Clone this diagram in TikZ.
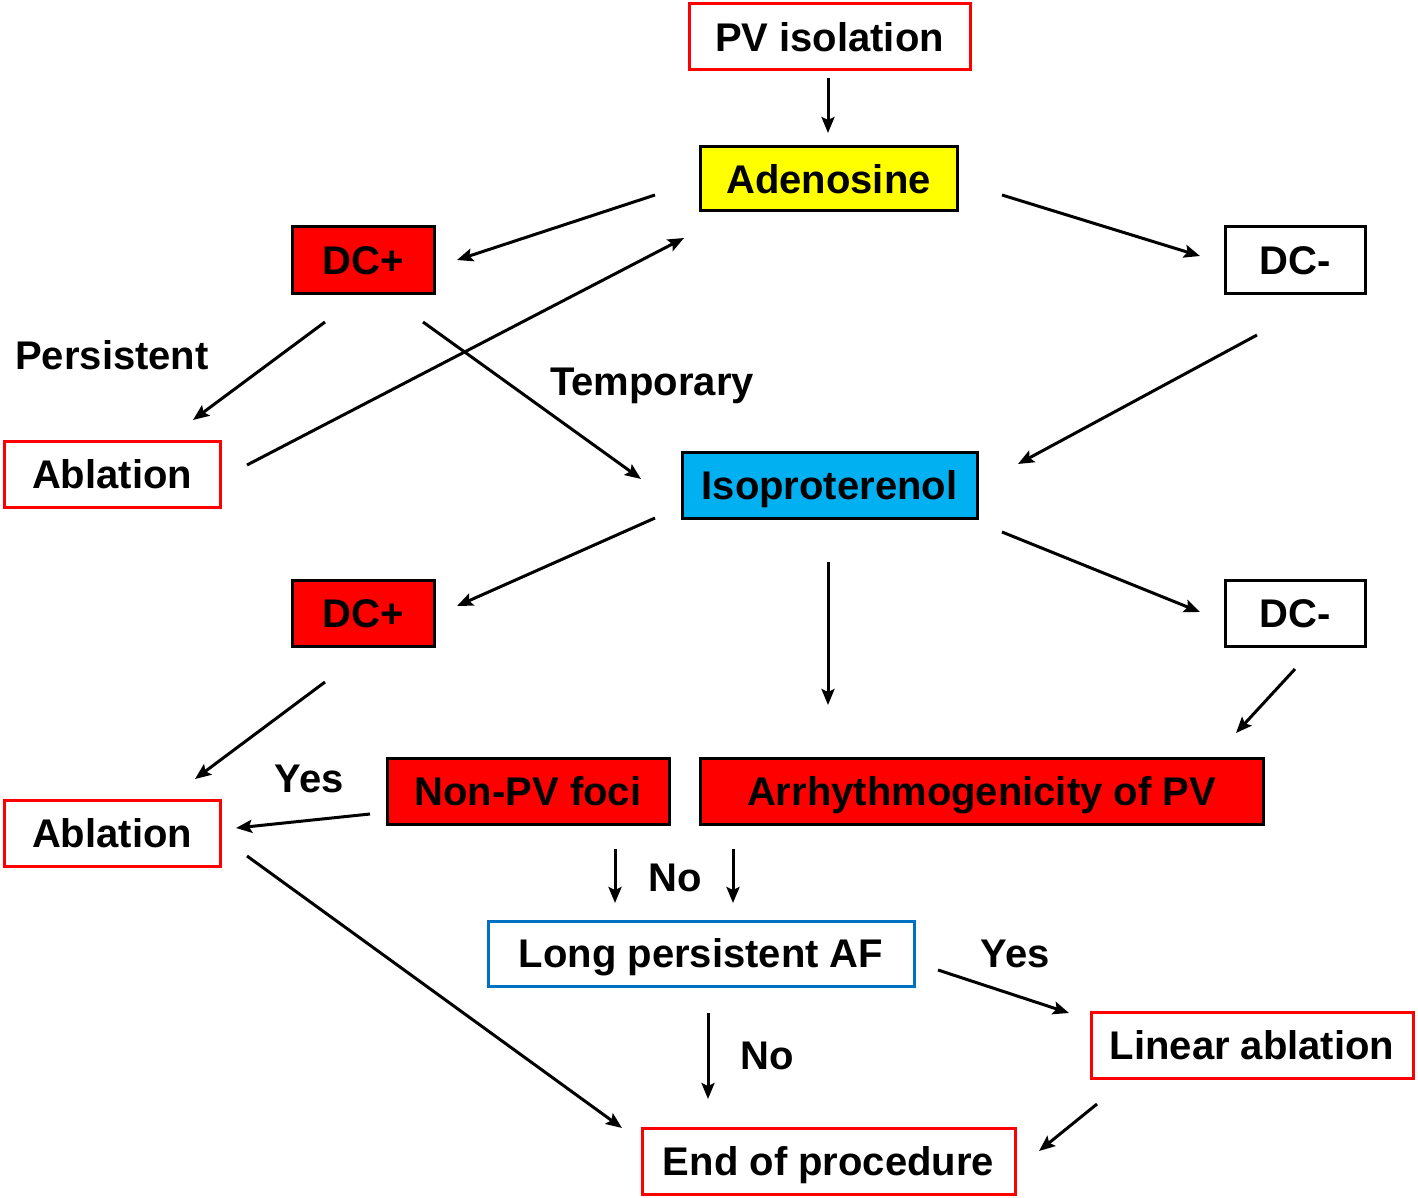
\documentclass[tikz,border=0pt]{standalone}
\usepackage{fontspec}
\setmainfont{Liberation Sans}
\usetikzlibrary{arrows.meta}
\definecolor{boxred}{RGB}{255,0,0}
\definecolor{boxyellow}{RGB}{255,255,0}
\definecolor{boxcyan}{RGB}{0,176,240}
\definecolor{boxblue}{RGB}{0,112,192}
\begin{document}
\begin{tikzpicture}[x=1pt,y=-1pt,
  base/.style={rectangle, inner sep=0pt, line width=3pt, font=\fontsize{40}{48}\selectfont\bfseries, text=black, text height=28.6pt, text depth=0pt},
  redframe/.style={base, draw=boxred, fill=white},
  blackframe/.style={base, draw=black, fill=white},
  redfill/.style={base, draw=black, fill=boxred},
  yellowfill/.style={base, draw=black, fill=boxyellow},
  cyanfill/.style={base, draw=black, fill=boxcyan},
  blueframe/.style={base, draw=boxblue, fill=white},
  lbl/.style={inner sep=0pt, font=\fontsize{40}{48}\selectfont\bfseries, text=black, text height=28.6pt, text depth=0pt},
  arr/.style={line width=3pt, -{Stealth[length=16pt,width=13pt,inset=3pt]}}
]
\useasboundingbox (0,0) rectangle (1418,1198);

% boxes
\node[redframe, minimum width=281pt, minimum height=66pt] (pv) at (829.5,37) {PV isolation};
\node[yellowfill, minimum width=257pt, minimum height=64pt] (aden) at (828.5,179) {Adenosine};
\node[redfill, minimum width=142pt, minimum height=66pt] (dcp1) at (363,260) {DC+};
\node[blackframe, minimum width=140pt, minimum height=66pt] (dcm1) at (1295,260) {DC-};
\node[redframe, minimum width=216pt, minimum height=66pt] (abl1) at (112,474) {Ablation};
\node[cyanfill, minimum width=295pt, minimum height=66pt] (iso) at (829.5,485) {Isoproterenol};
\node[redfill, minimum width=142pt, minimum height=66pt] (dcp2) at (363,613) {DC+};
\node[blackframe, minimum width=140pt, minimum height=66pt] (dcm2) at (1295,613) {DC-};
\node[redfill, minimum width=282pt, minimum height=66pt] (npv) at (528,791) {Non-PV foci};
\node[redfill, minimum width=563pt, minimum height=66pt] (arr) at (981.5,791) {Arrhythmogenicity of PV};
\node[redframe, minimum width=216pt, minimum height=66pt] (abl2) at (112,833) {Ablation};
\node[blueframe, minimum width=426pt, minimum height=65pt] (lpaf) at (701,953.5) {Long persistent AF};
\node[redframe, minimum width=322pt, minimum height=66pt] (lin) at (1252,1045) {Linear ablation};
\node[redframe, minimum width=373pt, minimum height=66pt] (end) at (828.5,1161) {End of procedure};

% labels
\node[lbl] (lpers) at (112,355) {Persistent};
\node[lbl] (ltemp) at (652,381) {Temporary};
\node[lbl] (lyes1) at (309,778) {Yes};
\node[lbl] (lno1) at (675,877) {No};
\node[lbl] (lyes2) at (1015,953) {Yes};
\node[lbl] (lno2) at (767,1055) {No};

% arrow end points
\coordinate (a1s) at (828,78);   \coordinate (a1e) at (828,133);
\coordinate (a2s) at (655,195);  \coordinate (a2e) at (457,260);
\coordinate (a3s) at (1002,195); \coordinate (a3e) at (1200,256);
\coordinate (a4s) at (325,322);  \coordinate (a4e) at (193,420);
\coordinate (a5s) at (423,322);  \coordinate (a5e) at (641,479);
\coordinate (a6s) at (247,465);  \coordinate (a6e) at (684,238);
\coordinate (a7s) at (1257,335); \coordinate (a7e) at (1018,464);
\coordinate (a8s) at (655,518);  \coordinate (a8e) at (457,606);
\coordinate (a9s) at (1002,532); \coordinate (a9e) at (1200,612);
\coordinate (a10s) at (828,562); \coordinate (a10e) at (828,705);
\coordinate (a11s) at (325,682); \coordinate (a11e) at (195,779);
\coordinate (a12s) at (1295,669); \coordinate (a12e) at (1236,733);
\coordinate (a13s) at (370,814); \coordinate (a13e) at (236,828);
\coordinate (a14s) at (615,849); \coordinate (a14e) at (615,903);
\coordinate (a15s) at (733,849); \coordinate (a15e) at (733,903);
\coordinate (a16s) at (247,856); \coordinate (a16e) at (622,1128);
\coordinate (a17s) at (938,970); \coordinate (a17e) at (1069,1013);
\coordinate (a18s) at (708,1013); \coordinate (a18e) at (708,1099);
\coordinate (a19s) at (1097,1104); \coordinate (a19e) at (1039,1151);

\foreach \i in {1,...,19} {\draw[arr] (a\i s) -- (a\i e);}
\end{tikzpicture}
\end{document}
